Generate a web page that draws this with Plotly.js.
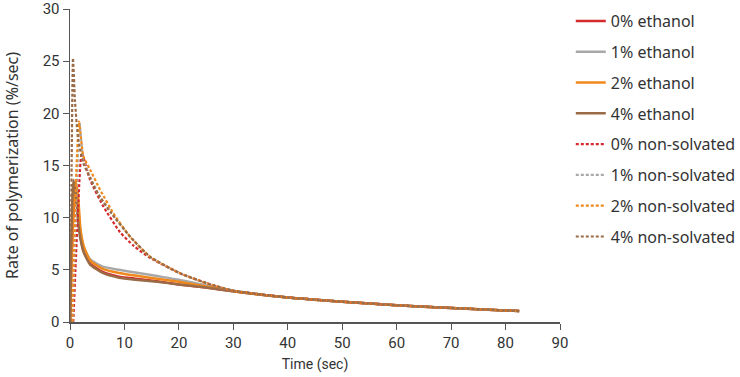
<!DOCTYPE html>
<html>
<head>
<meta charset="utf-8">
<script src="https://cdn.plot.ly/plotly-3.0.1.min.js"></script>
<style>html,body{margin:0;padding:0;background:#fff}#chart{width:740px;height:377px}</style>
</head>
<body>
<div id="chart"></div>
<script>
// Solid series (ethanol)
const t_eth0 = [0, 0.3, 0.7, 1.1, 1.5, 1.9, 2.5, 3.7, 6, 9, 12, 16, 20, 25, 30, 40, 50, 60, 70, 82.5];
const v_eth0 = [0, 6, 11, 12.6, 11, 8.4, 6.8, 5.6, 4.8, 4.35, 4.15, 3.9, 3.6, 3.3, 2.95, 2.35, 1.95, 1.6, 1.35, 1.05];
const t_eth1 = [0, 0.3, 0.6, 0.9, 1.4, 1.9, 2.5, 3.7, 6, 9, 12, 16, 20, 25, 30, 40, 50, 60, 70, 82.5];
const v_eth1 = [0, 7, 11.5, 13.0, 11.5, 8.8, 7.2, 6.0, 5.3, 5.0, 4.75, 4.4, 4.05, 3.5, 3.0, 2.35, 1.95, 1.6, 1.35, 1.05];
const t_eth2 = [0, 0.3, 0.7, 1.1, 1.5, 1.9, 2.5, 3.7, 6, 9, 12, 16, 20, 25, 30, 40, 50, 60, 70, 82.5];
const v_eth2 = [0, 6.5, 11.5, 13.4, 12, 9.0, 7.3, 5.9, 5.1, 4.7, 4.45, 4.15, 3.85, 3.4, 2.95, 2.35, 1.95, 1.6, 1.35, 1.05];
const t_eth4 = [0, 0.2, 0.45, 0.65, 1.1, 1.5, 1.9, 2.5, 3.7, 6, 9, 12, 16, 20, 25, 30, 40, 50, 60, 70, 82.5];
const v_eth4 = [0, 7, 12, 13.6, 12, 9.5, 8.0, 6.7, 5.5, 4.7, 4.25, 4.05, 3.85, 3.6, 3.3, 2.95, 2.35, 1.95, 1.6, 1.35, 1.05];
// Dashed series (non-solvated)
const t_ns0 = [0.6, 1.0, 1.5, 2.15, 3.7, 6.1, 9.2, 11.7, 14.7, 20.3, 25.8, 30, 40, 50, 60, 70, 82.5];
const v_ns0 = [0, 5, 11, 16.2, 13.6, 11.1, 8.6, 7.3, 6.15, 4.65, 3.6, 3.0, 2.35, 1.95, 1.6, 1.35, 1.05];
const t_ns1 = [0.45, 0.9, 1.3, 1.75, 2.45, 3.7, 5.5, 7.5, 11, 14.7, 20.3, 25.8, 30, 40, 50, 60, 70, 82.5];
const v_ns1 = [0, 8, 14, 19.1, 15.5, 13.9, 12.0, 10.5, 8.2, 6.25, 4.65, 3.6, 3.0, 2.35, 1.95, 1.6, 1.35, 1.05];
const t_ns2 = [0.4, 0.8, 1.2, 1.66, 2.45, 3.7, 5.5, 8, 11, 14.7, 20.3, 25.8, 30, 40, 50, 60, 70, 82.5];
const v_ns2 = [0, 8, 15, 19.2, 15.9, 14.6, 12.7, 10.4, 8.2, 6.25, 4.65, 3.6, 3.0, 2.35, 1.95, 1.6, 1.35, 1.05];
const t_ns4 = [0.1, 0.3, 0.55, 0.9, 1.5, 2.45, 3.7, 4.6, 5.5, 7.5, 11, 14.7, 20.3, 25.8, 30, 40, 50, 60, 70, 82.5];
const v_ns4 = [0, 15, 25.3, 21.3, 17.5, 15.2, 13.8, 12.8, 12.0, 10.5, 8.2, 6.25, 4.65, 3.6, 3.0, 2.35, 1.95, 1.6, 1.35, 1.05];

const names = ['0% ethanol','1% ethanol','2% ethanol','4% ethanol',
               '0% non-solvated','1% non-solvated','2% non-solvated','4% non-solvated'];
const xs = [t_eth0, t_eth1, t_eth2, t_eth4, t_ns0, t_ns1, t_ns2, t_ns4];
const ys = [v_eth0, v_eth1, v_eth2, v_eth4, v_ns0, v_ns1, v_ns2, v_ns4];
const colors = ['#d42a2e','#a8a8a8','#f0891c','#9a6b45','#d42a2e','#a8a8a8','#f0891c','#9a6b45'];
const xTicks = [0,10,20,30,40,50,60,70,80,90];
const yTicks = [0,5,10,15,20,25,30];

const traces = names.map((n, i) => ({
  x: xs[i], y: ys[i], name: n, mode: 'lines', type: 'scatter',
  legendgroup: 'g' + i,
  line: {color: colors[i], width: i < 4 ? 2.5 : 2.2, dash: i < 4 ? 'solid' : '3px,2px', shape: 'spline', smoothing: 0.5}
}));

const tickFont = {family: '"Liberation Sans Narrow", "Roboto", sans-serif', size: 15, color: '#333'};
const layout = {
  width: 740, height: 377,
  margin: {l: 70, r: 180, t: 9, b: 55, autoexpand: false},
  paper_bgcolor: '#fff', plot_bgcolor: '#fff',
  showlegend: true,
  legend: {x: 1.022, xanchor: 'left', y: 1.016, yanchor: 'top', tracegroupgap: 7.0, itemwidth: 30, maxheight: 370,
           font: {family: '"Noto Sans", sans-serif', size: 16, color: '#333'},
           bgcolor: 'rgba(0,0,0,0)'},
  xaxis: {range: [0, 90], tickvals: xTicks, ticktext: xTicks.map(String), showgrid: false, zeroline: false,
          showline: true, linecolor: '#555', linewidth: 1.5, ticks: 'outside', ticklen: 6, tickcolor: '#555',
          tickfont: tickFont,
          title: {text: 'Time (sec)', font: {family: '"Liberation Sans Narrow", "Roboto", sans-serif', size: 14, color: '#333'}, standoff: 8}},
  yaxis: {range: [0, 30], tickvals: yTicks, ticktext: yTicks.map(String), showgrid: false, zeroline: false,
          showline: true, linecolor: '#555', linewidth: 1.5, ticks: 'outside', ticklen: 6, tickcolor: '#555',
          tickfont: tickFont,
          title: {text: 'Rate of polymerization (%/sec)', font: {family: '"Noto Sans", sans-serif', size: 16, color: '#333'}, standoff: 20}}
};
Plotly.newPlot('chart', traces, layout, {staticPlot: true, displayModeBar: false});
</script>
</body>
</html>
